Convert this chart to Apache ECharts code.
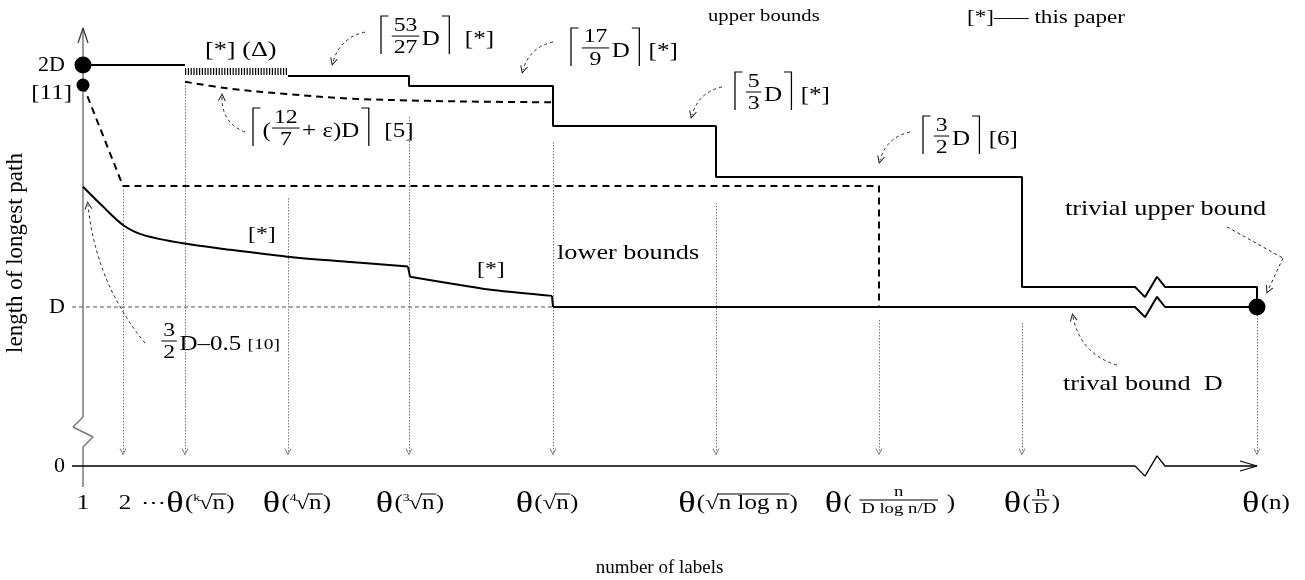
<!DOCTYPE html>
<html><head><meta charset="utf-8"><title>longest path bounds</title>
<script src="https://cdn.jsdelivr.net/npm/echarts@6.0.0/dist/echarts.min.js"></script>
<style>html,body{margin:0;padding:0;background:#fff;}#main{width:1305px;height:580px;}</style>
</head><body><div id="main"></div>
<script>
// ===== data: x = position along the (schematic) "number of labels" axis, y = path length in units of D =====
const xTickPos    = [0, 40, 102, 205, 326, 470, 633, 796, 939, 1174];
const xTickLabels = ['1', '2', '⋯θ(^k√«n»)', 'θ(^4√«n»)', 'θ(^3√«n»)', 'θ(√«n»)', 'θ(√«n log n»)', 'θ( {n|D log n/D} )', 'θ({n|D})', 'θ(n)'];
const xDropTop    = [null, 1.484, 1.917, 1.450, 1.785, 1.682, 1.430, 0.946, 0.934, 0.967];
const yTickValues = [0.343, 1, 2];
const yTickLabels = ['0', 'D', '2D'];

// upper bounds (step function), one value per interval between tick indices
const upperBoundVal  = [2.0, 1.973, 1.955, 1.913, 1.748, 1.537, 1.083];
const upperBoundFrom = [0, 2, 3, 4, 5, 6, 8];
const upperBoundTo   = [2, 3, 4, 5, 6, 8, 9];

// upper bound [5]  ⌈(12/7+ε)D⌉ (dashed curve)
const eps5X = [102, 144, 204, 264, 344, 410, 470];
const eps5V = [1.931, 1.904, 1.880, 1.862, 1.852, 1.848, 1.846];

// lower bound [11] (dashed)
const lb11X = [0, 40, 796, 796];
const lb11V = [1.917, 1.5, 1.5, 1.0];

// lower bound [*] (solid curve, two pieces)
const lbStarAX = [0, 20, 40, 60, 100, 144, 204, 264, 325];
const lbStarAV = [1.497, 1.415, 1.339, 1.298, 1.263, 1.238, 1.208, 1.187, 1.167];
const lbStarBX = [327, 377, 410, 469];
const lbStarBV = [1.125, 1.091, 1.070, 1.046];

const trivialD = 1.0;
const dotX = [0, 0, 1174];
const dotV = [2.0, 1.917, 1.0];

// ===== layout / glyph helpers (not data) =====
const yMin = 0.343, yMax = 2.2686, xMin = -11, xMax = 1174;
const breakX = 1052, zigDX = [0, 10, 22, 30], zigDY = [0, -1, 1, 0], zigAmp = 0.042;
const xLabelShift = [0, 2, 3, 9, 1, -6, 22, 11, 10, 9];
const xLabelV = 0.186;
const dropBottom = 0.4008;
function withBreak(v, amp) { return zigDX.map((d, i) => [breakX + d, v + zigDY[i] * (amp || zigAmp)]); }

const annotations = [
  {text: '[*] (Δ)', x: 122, y: 2.062, F: 21},
  {text: '⌈{53|27}D⌉  [*]', x: 295, y: 2.103, F: 20},
  {text: '⌈{17|9}D⌉ [*]', x: 485, y: 2.054, F: 20},
  {text: 'upper bounds', x: 625, y: 2.198, F: 16.5},
  {text: '[*]––– this paper', x: 884, y: 2.194, F: 18.5},
  {text: '⌈{5|3}D⌉ [*]', x: 649, y: 1.872, F: 20},
  {text: '⌈{3|2}D⌉ [6]', x: 837, y: 1.690, F: 20},
  {text: '⌈({12|7}+ ε)D⌉  [5]', x: 167, y: 1.723, F: 20},
  {text: '{3|2}D–0.5 <[10]>', x: 77, y: 0.843, F: 20},
  {text: '[11]', x: -11, y: 1.880, F: 20, align: 'right'},
  {text: '[*]', x: 165, y: 1.2975, F: 19},
  {text: '[*]', x: 394, y: 1.153, F: 19},
  {text: 'lower bounds', x: 474, y: 1.223, F: 21},
  {text: 'trivial upper bound', x: 982, y: 1.401, F: 21},
  {text: 'trival bound  D', x: 980, y: 0.678, F: 21}
];
const pointerFrom = [[282, 2.136], [470, 2.095], [639, 1.909], [827, 1.723], [162, 1.723], [62, 0.851], [1200, 1.202], [1034, 0.760]];
const pointerTo   = [[250, 2.012], [440, 1.979], [609, 1.793], [797, 1.607], [139, 1.868], [5, 1.421], [1185, 1.070], [990, 0.959]];
const pointerBend = [-0.3, -0.3, -0.3, -0.3, 0.35, 0.15, 0, 0.3];
const pointerPlain = [[[1144, 1.331], [1200, 1.202]]];

const CHEVRON = 'path://M0,10 L5,0 L10,10 L8.6,10 L5,2.8 L1.4,10 Z';
const FAM = '"Liberation Serif","Times New Roman",serif';

// ===== build series data =====
const ubHead = [[xTickPos[upperBoundFrom[0]], upperBoundVal[0]], [xTickPos[upperBoundTo[0]], upperBoundVal[0]]];
const ubHatch = [[xTickPos[upperBoundFrom[1]], upperBoundVal[1]], [xTickPos[upperBoundTo[1]], upperBoundVal[1]]];
const ubTail = [];
for (let i = 2; i < upperBoundVal.length; i++) {
  const x0 = xTickPos[upperBoundFrom[i]], x1 = xTickPos[upperBoundTo[i]], v = upperBoundVal[i];
  ubTail.push([x0, v]);
  if (x0 < breakX && x1 > breakX) ubTail.push(...withBreak(v));
  ubTail.push([x1, v]);
}
ubTail.push([xTickPos[9], trivialD]);

const trivialLine = [[xTickPos[5], trivialD], ...withBreak(trivialD), [xTickPos[9], trivialD]];
const eps5 = eps5X.map((x, i) => [x, eps5V[i]]);
const lb11 = lb11X.map((x, i) => [x, lb11V[i]]);
const lbStarA = lbStarAX.map((x, i) => [x, lbStarAV[i]]);
const lbStarB = lbStarBX.map((x, i) => [x, lbStarBV[i]]);
const lbStep1 = [lbStarA[lbStarA.length - 1], lbStarB[0]];
const lbStep2 = [lbStarB[lbStarB.length - 1], [xTickPos[5], trivialD]];
const dots = dotX.map((x, i) => ({value: [x, dotV[i]], symbolSize: i === 1 ? 13 : 17}));
const drops = [];
xTickPos.forEach((x, i) => { if (xDropTop[i] != null) drops.push({coords: [[x, xDropTop[i]], [x, dropBottom]]}); });
const pointers = pointerFrom.map((p, i) => ({coords: [p, pointerTo[i]], lineStyle: {curveness: pointerBend[i]}}));

const yAxisPts = [[0, 0.256], [0, 0.4215], [10, 0.4628], [-10, 0.5041], [0, 0.5455], [0, 2.153]];
const yArrow = [[-5, 2.091], [0, 2.153], [5, 2.091]];
const xAxisPts = [[xMin, yMin], ...withBreak(yMin, 0.042), [xMax, yMin]];
const xArrow = [[1157, 0.364], [xMax, yMin], [1157, 0.322]];

function lineSeries(name, data, style, extra) {
  return Object.assign({type: 'line', name, data, symbol: 'none', clip: false, silent: true,
    lineStyle: style, animation: false}, extra || {});
}

const chart = echarts.init(document.getElementById('main'), null, {renderer: 'canvas'});
chart.setOption({
  animation: false,
  backgroundColor: '#fff',
  grid: {left: 72, right: 48, top: 0, bottom: 114, containLabel: false, outerBoundsMode: 'none'},
  xAxis: {
    type: 'value', min: xMin, max: xMax,
    name: 'number of labels', nameLocation: 'middle', nameGap: 93,
    nameTextStyle: {fontFamily: FAM, fontSize: 19, color: '#000', padding: [0, 10, 0, 0]},
    axisLine: {show: false}, axisTick: {show: false}, axisLabel: {show: false}, splitLine: {show: false}
  },
  yAxis: {
    type: 'value', min: yMin, max: yMax,
    name: 'length of longest path', nameLocation: 'middle', nameGap: 38, nameRotate: 90,
    nameTextStyle: {fontFamily: FAM, fontSize: 23, color: '#000', padding: [0, 40, 0, 0]},
    axisLine: {show: false}, axisTick: {show: false}, splitLine: {show: false},
    axisLabel: {
      show: true, customValues: yTickValues, margin: 7, fontFamily: FAM, fontSize: 22, color: '#000',
      formatter: v => { const i = yTickValues.findIndex(t => Math.abs(t - v) < 1e-6); return i >= 0 ? yTickLabels[i] : ''; }
    }
  },
  series: [
    lineSeries('y axis', yAxisPts, {color: '#7a7a7a', width: 1.5}),
    lineSeries('y arrow', yArrow, {color: '#333', width: 1.2}),
    lineSeries('x axis', xAxisPts, {color: '#000', width: 1.3}),
    lineSeries('x arrow', xArrow, {color: '#000', width: 1.1}),
    lineSeries('D reference', [[xMin, trivialD], [xTickPos[5], trivialD]], {color: '#555', width: 1, type: [4, 3]}),
    {type: 'lines', name: 'drops', coordinateSystem: 'cartesian2d', clip: false, silent: true, animation: false,
      symbol: ['none', CHEVRON], symbolSize: [5, 7],
      lineStyle: {color: '#777', width: 1, type: [1.5, 1.5], opacity: 1}, data: drops},
    lineSeries('upper bound [11]', ubHead, {color: '#000', width: 2}),
    lineSeries('upper bound Δ', ubHatch, {color: '#000', width: 7, type: [1.2, 1.6], cap: 'butt'}),
    lineSeries('upper bounds [*]', ubTail, {color: '#000', width: 2}),
    lineSeries('upper bound [5]', eps5, {color: '#000', width: 2, type: [7, 5]}, {smooth: 0.4}),
    lineSeries('lower bound [11]', lb11, {color: '#000', width: 2, type: [7, 5]}),
    lineSeries('lower bound [*] a', lbStarA, {color: '#000', width: 2}, {smooth: 0.3}),
    lineSeries('lower bound [*] b', lbStarB, {color: '#000', width: 2}, {smooth: 0.3}),
    lineSeries('lower bound [*] step 1', lbStep1, {color: '#000', width: 2}),
    lineSeries('lower bound [*] step 2', lbStep2, {color: '#000', width: 2}),
    lineSeries('trivial bound D', trivialLine, {color: '#000', width: 2}),
    {type: 'lines', name: 'pointers', coordinateSystem: 'cartesian2d', clip: false, silent: true, animation: false,
      symbol: ['none', CHEVRON], symbolSize: [6, 8],
      lineStyle: {color: '#222', width: 1, type: [3, 3], opacity: 1}, data: pointers},
    {type: 'lines', name: 'pointer plain', coordinateSystem: 'cartesian2d', clip: false, silent: true, animation: false,
      symbol: 'none', lineStyle: {color: '#222', width: 1, type: [3, 3], opacity: 1},
      data: pointerPlain.map(c => ({coords: c}))},
    {type: 'scatter', name: 'points', data: dots, symbol: 'circle', itemStyle: {color: '#000', opacity: 1}, clip: false, silent: true, z: 5}
  ]
});

// ===== math-like text layout (real text, positioned through the chart's scales) =====
const mctx = document.createElement('canvas').getContext('2d');
function tw(s, size) { mctx.font = size + 'px ' + FAM; return mctx.measureText(s).width; }
function parse(s) {
  const toks = []; let i = 0, buf = '';
  const flush = () => { if (buf) { toks.push({t: 'txt', s: buf}); buf = ''; } };
  while (i < s.length) {
    const c = s[i];
    if (c === 'θ') { flush(); toks.push({t: 'theta'}); i++; }
    else if (c === '{') { flush(); const j = s.indexOf('}', i); const p = s.slice(i + 1, j).split('|'); toks.push({t: 'frac', a: p[0], b: p[1]}); i = j + 1; }
    else if (c === '^') { flush(); toks.push({t: 'sup', s: s[i + 1]}); i += 2; }
    else if (c === '√' && s[i + 1] === '«') { flush(); const j = s.indexOf('»', i); toks.push({t: 'root', s: s.slice(i + 2, j)}); i = j + 1; }
    else if (c === '⌈') { flush(); toks.push({t: 'ceilL'}); i++; }
    else if (c === '⌉') { flush(); toks.push({t: 'ceilR'}); i++; }
    else if (c === '<') { flush(); const j = s.indexOf('>', i); toks.push({t: 'small', s: s.slice(i + 1, j)}); i = j + 1; }
    else { buf += c; i++; }
  }
  flush(); return toks;
}
function txtEl(s, size, x, y, align) {
  return {type: 'text', x: x, y: y, silent: true,
    style: {text: s, font: size + 'px ' + FAM, fill: '#000', align: align || 'left', textAlign: align || 'left',
      verticalAlign: 'middle', textVerticalAlign: 'middle'}};
}
function lnEl(x1, y1, x2, y2, w) { return {type: 'line', silent: true, shape: {x1, y1, x2, y2}, style: {stroke: '#000', lineWidth: w || 1}}; }
function plEl(pts, w) { return {type: 'polyline', silent: true, shape: {points: pts}, style: {stroke: '#000', lineWidth: w || 1, fill: null}}; }
function mathGroup(str, px, py, o) {
  const F = o.F, fr = o.fr || F * 0.95, S = o.S || 1.25;
  const els = []; let x = 0; const barY = -F * 0.2;
  for (const t of parse(str)) {
    if (t.t === 'txt') { els.push(txtEl(t.s, F, x, 0)); x += tw(t.s, F); }
    else if (t.t === 'small') { const f = F * 0.78; els.push(txtEl(t.s, f, x, 0)); x += tw(t.s, f); }
    else if (t.t === 'theta') { const f = F * 1.45; els.push(txtEl('θ', f, x, F * 0.02)); x += tw('θ', f) + 1; }
    else if (t.t === 'sup') { const f = F * 0.55; els.push(txtEl(t.s, f, x, -F * 0.3)); x += tw(t.s, f) - F * 0.05; }
    else if (t.t === 'root') {
      const w0 = tw('√', F); els.push(txtEl('√', F, x, 0)); x += w0;
      const w1 = tw(t.s, F); els.push(txtEl(t.s, F, x, 0)); els.push(lnEl(x - 1, -F * 0.5, x + w1 + 1, -F * 0.5, 1)); x += w1 + 1;
    }
    else if (t.t === 'frac') {
      const w = Math.max(tw(t.a, fr), tw(t.b, fr)) + F * 0.25;
      els.push(txtEl(t.a, fr, x + w / 2, barY - fr * 0.55, 'center'));
      els.push(txtEl(t.b, fr, x + w / 2, barY + fr * 0.62, 'center'));
      els.push(lnEl(x + 1, barY, x + w - 1, barY, 1));
      x += w + F * 0.05;
    }
    else if (t.t === 'ceilL') { const a = x + F * 0.12; els.push(plEl([[a + F * 0.3, -F * 1.2], [a, -F * 1.2], [a, F * 0.7]], 1)); x += F * 0.5; }
    else if (t.t === 'ceilR') { const a = x + F * 0.38; els.push(plEl([[a - F * 0.3, -F * 1.2], [a, -F * 1.2], [a, F * 0.7]], 1)); x += F * 0.5; }
  }
  const off = o.align === 'center' ? -x / 2 : (o.align === 'right' ? -x : 0);
  return {type: 'group', x: px, y: py, scaleX: S, children: [{type: 'group', x: off, children: els}]};
}
function P(x, y) { return chart.convertToPixel({gridIndex: 0}, [x, y]); }
const gfx = [];
annotations.forEach(a => { const p = P(a.x, a.y); gfx.push(mathGroup(a.text, p[0], p[1], {F: a.F, align: a.align})); });
xTickLabels.forEach((s, i) => { const p = P(xTickPos[i] + xLabelShift[i], xLabelV); gfx.push(mathGroup(s, p[0], p[1], {F: 20, fr: 15, align: 'center'})); });
chart.setOption({graphic: {elements: gfx}});
</script></body></html>
